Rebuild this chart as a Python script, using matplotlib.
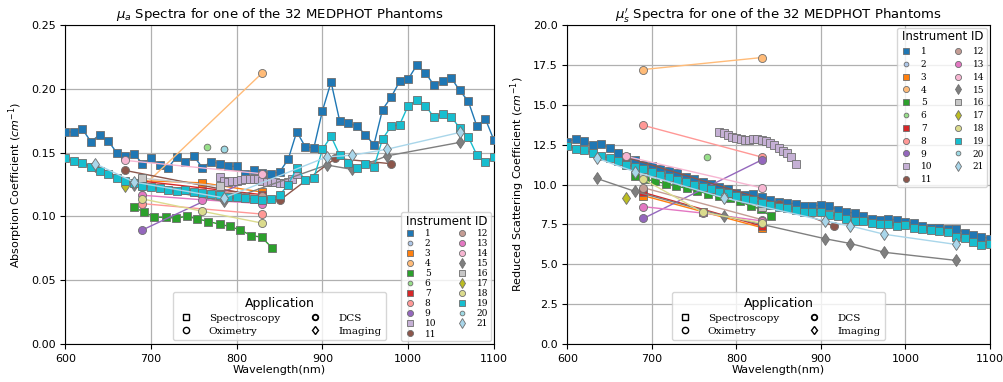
import matplotlib
matplotlib.use("Agg")
import matplotlib.pyplot as plt
from matplotlib.lines import Line2D
from matplotlib.ticker import FormatStrFormatter, MultipleLocator

# instrument ids and their application
ids = list(range(1, 22))
apps = ["Spectroscopy", "DCS", "Spectroscopy", "Oximetry", "Spectroscopy", "DCS",
        "Spectroscopy", "Oximetry", "Oximetry", "Spectroscopy", "Oximetry", "Oximetry",
        "Oximetry", "Oximetry", "Imaging", "Spectroscopy", "Imaging", "Oximetry",
        "Spectroscopy", "DCS", "Imaging"]

# wavelength grids (nm)
wl_full = list(range(600, 1101, 10))
wl_5 = [680, 692, 704, 717, 729, 742, 754, 767, 780, 792, 804, 817, 829, 841]
wl_10 = list(range(780, 871, 5))
wl_img = [635, 680, 785, 905, 935, 975, 1060]
wl_ox = [690, 830]
wl_ox3 = [690, 760, 830]

# absorption (cm^-1)
mua_1 = [0.1658, 0.1664, 0.1684, 0.1585, 0.1640, 0.1592, 0.1500, 0.1474, 0.1492, 0.1413,
         0.1455, 0.1403, 0.1382, 0.1466, 0.1429, 0.1471, 0.1382, 0.1429, 0.1413, 0.1392,
         0.1392, 0.1329, 0.1360, 0.1340, 0.1334, 0.1348, 0.1447, 0.1664, 0.1545, 0.1539,
         0.1829, 0.2053, 0.1750, 0.1729, 0.1711, 0.1640, 0.1561, 0.1837, 0.1934, 0.2058,
         0.2077, 0.2185, 0.2126, 0.2029, 0.2061, 0.2087, 0.1987, 0.1903, 0.1708, 0.1763, 0.1597]
mua_19 = [0.1455, 0.1434, 0.1421, 0.1387, 0.1355, 0.1329, 0.1303, 0.1276, 0.1263, 0.1237,
          0.1229, 0.1224, 0.1210, 0.1202, 0.1205, 0.1195, 0.1185, 0.1175, 0.1165, 0.1155,
          0.1150, 0.1145, 0.1135, 0.1125, 0.1135, 0.1166, 0.1250, 0.1377, 0.1282, 0.1303,
          0.1526, 0.1627, 0.1482, 0.1422, 0.1382, 0.1413, 0.1387, 0.1606, 0.1706, 0.1719,
          0.1869, 0.1909, 0.1869, 0.1777, 0.1803, 0.1782, 0.1693, 0.1624, 0.1482, 0.1427, 0.1466]
mua_5 = [0.1071, 0.1034, 0.0994, 0.0992, 0.0987, 0.1000, 0.0981, 0.0960, 0.0939, 0.0921,
         0.0894, 0.0850, 0.0837, 0.0755]
mua_10 = [0.131, 0.128, 0.127, 0.128, 0.128, 0.1285, 0.129, 0.129, 0.1295, 0.129,
          0.128, 0.127, 0.127, 0.127, 0.126, 0.126, 0.127, 0.129, 0.133]
mua_15 = [0.1395, 0.125, 0.1118, 0.1403, 0.1368, 0.1474, 0.158]
mua_21 = [0.1413, 0.127, 0.1145, 0.1466, 0.148, 0.1526, 0.1658]
mua_2 = [0.1526]
mua_3 = [0.128, 0.1263, 0.119]
mua_4 = [0.123, 0.2126]
mua_6 = [0.1547]
mua_7 = [0.1276, 0.117]
mua_8 = [0.110, 0.1018]
mua_9 = [0.0894, 0.1334]
mua_11 = [0.136, 0.1126, 0.1455, 0.1413]
mua_12 = [0.125, 0.116]
mua_13 = [0.1166, 0.113, 0.110]
mua_14 = [0.1439, 0.1334]
mua_16 = [0.130, 0.1237]
mua_17 = [0.1237]
mua_18 = [0.1137, 0.104, 0.0947]
mua_20 = [0.1526]

# reduced scattering (cm^-1)
mus_1 = [12.67, 12.88, 12.72, 12.46, 12.54, 12.29, 11.97, 11.70, 11.55, 11.23,
         11.19, 10.97, 10.84, 10.70, 10.49, 10.32, 10.17, 10.06, 9.85, 9.74,
         9.49, 9.36, 9.42, 9.21, 9.00, 8.89, 8.85, 8.79, 8.64, 8.64,
         8.72, 8.64, 8.42, 8.26, 8.21, 8.00, 7.83, 7.79, 7.83, 7.79,
         7.62, 7.58, 7.37, 7.30, 7.30, 7.24, 7.24, 6.98, 6.81, 6.73, 6.60]
mus_19 = [12.4, 12.25, 12.15, 12.0, 11.8, 11.65, 11.5, 11.25, 11.1, 10.95,
          10.8, 10.6, 10.45, 10.3, 10.15, 10.0, 9.85, 9.7, 9.55, 9.45,
          9.3, 9.1, 9.0, 8.85, 8.7, 8.6, 8.5, 8.4, 8.3, 8.3,
          8.25, 8.1, 8.0, 7.85, 7.7, 7.7, 7.6, 7.5, 7.5, 7.4,
          7.45, 7.3, 7.2, 7.15, 7.1, 7.05, 6.7, 6.65, 6.4, 6.2, 6.25]
mus_5 = [10.55, 10.35, 10.2, 10.05, 9.9, 9.75, 9.6, 9.4, 9.25, 9.15, 8.95, 8.65, 8.45, 8.0]
mus_10 = [13.31, 13.2, 13.1, 13.0, 12.92, 12.86, 12.82, 12.82, 12.85, 12.83,
          12.8, 12.72, 12.6, 12.45, 12.3, 12.12, 11.95, 11.7, 11.27]
mus_15 = [10.38, 9.57, 8.04, 6.60, 6.30, 5.75, 5.24]
mus_21 = [11.65, 10.8, 9.17, 7.72, 7.4, 6.88, 6.24]
mus_2 = [9.3]
mus_3 = [9.3, 8.3, 7.3]
mus_4 = [17.21, 17.96]
mus_6 = [11.70]
mus_7 = [9.5, 7.4]
mus_8 = [13.71, 11.72]
mus_9 = [7.87, 11.54]
mus_11 = [11.7, 8.79, 7.4]
mus_12 = [9.8, 7.8]
mus_13 = [8.61, 8.21, 7.72]
mus_14 = [11.76, 9.79]
mus_16 = [10.6, 8.58]
mus_17 = [9.15]
mus_18 = [10.33, 8.26, 7.58]
mus_20 = [9.3]

mua_data = [
    (wl_full, mua_1), ([785], mua_2), (wl_ox3, mua_3), (wl_ox, mua_4), (wl_5, mua_5),
    ([765], mua_6), (wl_ox, mua_7), (wl_ox, mua_8), (wl_ox, mua_9), (wl_10, mua_10),
    ([670, 850, 915, 980], mua_11), (wl_ox, mua_12), (wl_ox3, mua_13), ([670, 830], mua_14),
    (wl_img, mua_15), ([690, 780], mua_16), ([670], mua_17), (wl_ox3, mua_18),
    (wl_full, mua_19), ([785], mua_20), (wl_img, mua_21)]
mus_data = [
    (wl_full, mus_1), ([785], mus_2), (wl_ox3, mus_3), (wl_ox, mus_4), (wl_5, mus_5),
    ([765], mus_6), (wl_ox, mus_7), (wl_ox, mus_8), (wl_ox, mus_9), (wl_10, mus_10),
    ([670, 850, 915], mus_11), (wl_ox, mus_12), (wl_ox3, mus_13), ([670, 830], mus_14),
    (wl_img, mus_15), ([690, 830], mus_16), ([670], mus_17), (wl_ox3, mus_18),
    (wl_full, mus_19), ([785], mus_20), (wl_img, mus_21)]

cmap = plt.get_cmap("tab20")
colors = [cmap(i) for i in range(20)] + ["#a9d6ea"]
app_marker = {"Spectroscopy": ("s", 5.4), "Oximetry": ("o", 5.8), "DCS": ("o", 4.8),
              "Imaging": ("d", 6.0)}
EDGE = "#6e6e6e"
serif = {"family": "DejaVu Serif", "size": 6.5}


def draw(ax, data):
    handles = []
    for i, (wl, vals) in enumerate(data):
        m, ms = app_marker[apps[i]]
        ax.plot(wl, vals, color=colors[i], lw=1, marker=m, ms=ms,
                mfc=colors[i], mec=EDGE, mew=0.6, zorder=3)
        handles.append(Line2D([], [], ls="none", marker=m, ms=ms - 1.4,
                              mfc=colors[i], mec=EDGE, mew=0.6, label=str(ids[i])))
    return handles


def app_legend(ax):
    h = []
    for name in ["Spectroscopy", "Oximetry", "DCS", "Imaging"]:
        m, ms = app_marker[name]
        h.append(Line2D([], [], ls="none", marker=m, ms=4.5 if name != "DCS" else 4,
                        mfc="white", mec="black", mew=1.3 if name == "DCS" else 1.0,
                        label=name))
    leg = ax.legend(handles=h, ncol=2, loc="lower center", title="Application",
                    prop={"family": "DejaVu Serif", "size": 7.5}, title_fontsize=9,
                    columnspacing=2.6, labelspacing=0.35, handletextpad=1.4,
                    handlelength=1.6, borderpad=0.45, borderaxespad=0.35)
    return leg


def setup(ax, title, ylabel, ymax, ystep, fmt):
    ax.set_xlim(600, 1100)
    ax.set_ylim(0, ymax)
    ax.xaxis.set_major_locator(MultipleLocator(100))
    ax.yaxis.set_major_locator(MultipleLocator(ystep))
    ax.yaxis.set_major_formatter(FormatStrFormatter(fmt))
    ax.grid(True, color="#b0b0b0", lw=0.9, zorder=0)
    ax.set_axisbelow(True)
    ax.tick_params(labelsize=8)
    ax.set_title(title, fontsize=9.5, pad=5)
    ax.set_xlabel("Wavelength(nm)", fontsize=8, labelpad=1)
    ax.set_ylabel(ylabel, fontsize=8)


fig = plt.figure(figsize=(10.04, 3.82), dpi=100)
ax1 = fig.add_axes([0.065, 0.0995, 0.427, 0.835])
ax2 = fig.add_axes([0.565, 0.0995, 0.421, 0.835])

setup(ax1, r"$\mu_a$ Spectra for one of the 32 MEDPHOT Phantoms",
      r"Absorption Coefficient ($cm^{-1}$)", 0.25, 0.05, "%.2f")
setup(ax2, r"$\mu_s'$ Spectra for one of the 32 MEDPHOT Phantoms",
      r"Reduced Scattering Coefficient ($cm^{-1}$)", 20, 2.5, "%.1f")

h1 = draw(ax1, mua_data)
h2 = draw(ax2, mus_data)

for ax, h, loc, ls in [(ax1, h1, "lower right", 0.12), (ax2, h2, "upper right", 0.42)]:
    leg = ax.legend(handles=h, ncol=2, loc=loc, title="Instrument ID", prop=serif,
                    title_fontsize=8.5, labelspacing=ls, columnspacing=2.2,
                    handletextpad=0.9, handlelength=1.4, borderpad=0.3,
                    borderaxespad=0.3)
    ax.add_artist(leg)
    app_legend(ax)

fig.savefig("out.png", dpi=100)
